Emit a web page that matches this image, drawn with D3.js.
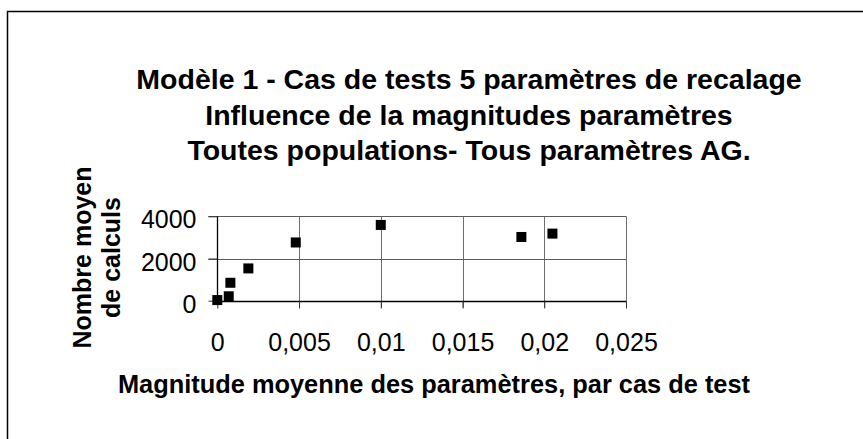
<!DOCTYPE html>
<html>
<head>
<meta charset="utf-8">
<script src="https://cdn.jsdelivr.net/npm/d3@7"></script>
<style>
  html, body { margin: 0; padding: 0; background: #fff; }
  svg { display: block; font-family: "Liberation Sans", Arial, sans-serif; }
</style>
</head>
<body>
<svg id="chart" width="863" height="439"></svg>
<script>
// ---- data ----
const magnitudes = [0, 0.0007, 0.0008, 0.0019, 0.0048, 0.0100, 0.0186, 0.0205];
const calculs    = [30, 210, 850, 1530, 2760, 3590, 3020, 3180];
const xTicks = [0, 0.005, 0.01, 0.015, 0.02, 0.025];
const yTicks = [0, 2000, 4000];
const titleLines = [
  "Modèle 1 - Cas de tests 5 paramètres de recalage",
  "Influence de la magnitudes paramètres",
  "Toutes populations- Tous paramètres AG."
];
const yTitleLines = ["Nombre moyen", "de calculs"];
const xTitle = "Magnitude moyenne des paramètres, par cas de test";

// ---- layout ----
const svg = d3.select("#chart");
const plot = { left: 217.3, right: 626, top: 216.3, bottom: 300.7 };

const x = d3.scaleLinear().domain([0, 0.025]).range([plot.left, plot.right]);
const y = d3.scaleLinear().domain([0, 4000]).range([plot.bottom, plot.top]);

const fmtX = v => (v === 0 ? "0" : String(+v.toFixed(3)).replace(".", ","));

// outer frame (extends past the window on the right and bottom)
svg.append("rect")
  .attr("x", 7.5).attr("y", 11.5)
  .attr("width", 900).attr("height", 500)
  .attr("fill", "none").attr("stroke", "#000").attr("stroke-width", 1.5);

// gridlines
const g = svg.append("g");
g.selectAll("line.vg").data(xTicks.filter(d => d > 0)).join("line")
  .attr("class", "vg")
  .attr("x1", d => Math.round(x(d)) + 0.5).attr("x2", d => Math.round(x(d)) + 0.5)
  .attr("y1", y(4000)).attr("y2", y(0) + 7)
  .attr("stroke", "#6e6e6e").attr("stroke-width", 1);
g.selectAll("line.hg").data(yTicks.filter(d => d > 0)).join("line")
  .attr("class", "hg")
  .attr("x1", x(0) - 9).attr("x2", x(0.025))
  .attr("y1", d => Math.round(y(d)) + 0.5).attr("y2", d => Math.round(y(d)) + 0.5)
  .attr("stroke", "#5a5a5a").attr("stroke-width", 1);

// axes via d3
const xAxis = d3.axisBottom(x).tickValues(xTicks).tickSize(7).tickPadding(25).tickFormat(fmtX);
const yAxis = d3.axisLeft(y).tickValues(yTicks).tickSize(9).tickPadding(12).tickFormat(d3.format("d"));

const gx = svg.append("g").attr("transform", `translate(0,${Math.round(y(0)) + 0.5})`).call(xAxis);
const gy = svg.append("g").attr("transform", `translate(${Math.round(x(0)) + 0.5},0)`).call(yAxis);

[gx, gy].forEach(ax => {
  ax.select(".domain").attr("stroke", "#000").attr("stroke-width", 1.3);
  ax.selectAll(".tick line").attr("stroke", "#333");
  ax.selectAll(".tick text")
    .attr("font-family", "'Liberation Sans', Arial, sans-serif")
    .attr("font-size", 25).attr("fill", "#000");
});
gx.select(".domain").attr("d", `M${x(0)},0H${x(0.025)}`);
gy.select(".domain").attr("d", `M0,${y(0)}V${y(4000)}`);
gy.selectAll(".tick text").attr("dy", "0.46em");
gx.selectAll(".tick text").attr("dy", "0.71em");

// markers
svg.append("g").selectAll("rect").data(magnitudes.map((m, i) => [m, calculs[i]])).join("rect")
  .attr("x", d => x(d[0]) - 5).attr("y", d => y(d[1]) - 5)
  .attr("width", 10).attr("height", 10).attr("fill", "#000");

// title
svg.append("text")
  .attr("text-anchor", "middle").attr("font-weight", "bold").attr("font-size", 28.5).attr("fill", "#000")
  .selectAll("tspan").data(titleLines).join("tspan")
  .attr("x", 469).attr("y", (d, i) => 89 + i * 35.5).text(d => d);

// y title
svg.append("text")
  .attr("transform", "rotate(-90)")
  .attr("text-anchor", "middle").attr("font-weight", "bold").attr("font-size", 25).attr("fill", "#000")
  .selectAll("tspan").data(yTitleLines).join("tspan")
  .attr("x", -257.5).attr("y", (d, i) => 91 + i * 29).text(d => d);

// x title
svg.append("text")
  .attr("x", 434).attr("y", 393)
  .attr("text-anchor", "middle").attr("font-weight", "bold").attr("font-size", 25.4).attr("fill", "#000")
  .text(xTitle);
</script>
</body>
</html>
